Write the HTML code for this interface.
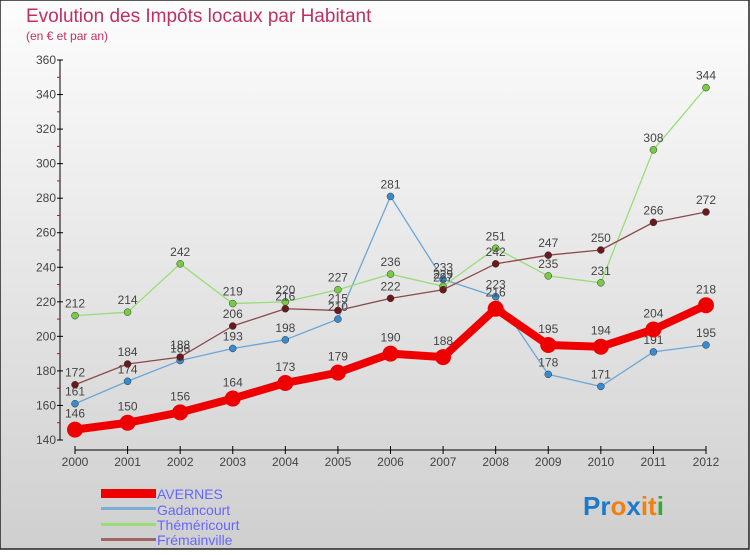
<!DOCTYPE html>
<html><head><meta charset="utf-8"><style>
html,body{margin:0;padding:0}
body{width:750px;height:550px;overflow:hidden;font-family:"Liberation Sans",sans-serif}
svg text{font-family:"Liberation Sans",sans-serif}
</style></head><body>
<svg id="c" width="750" height="550" xmlns="http://www.w3.org/2000/svg">
<defs><linearGradient id="bg" x1="0" y1="0" x2="0" y2="1"><stop offset="0" stop-color="#fdfdfd"/><stop offset="1" stop-color="#cfcfcf"/></linearGradient></defs>
<rect x="0" y="0" width="749" height="549" fill="url(#bg)" stroke="#222" stroke-width="1.5"/>
<text x="26" y="22" font-size="19" fill="#c0305f">Evolution des Impôts locaux par Habitant</text>
<text x="26" y="40" font-size="12" fill="#c0305f">(en € et par an)</text>
<g id="axes"></g><g id="series"></g>
<g>
<rect x="101" y="489" width="55" height="9" fill="#e00"/>
<text x="157" y="499" font-size="14" fill="#66f">AVERNES</text>
<rect x="101" y="507" width="55" height="3" fill="#7aaed6"/>
<text x="157" y="515" font-size="14" fill="#66f">Gadancourt</text>
<rect x="101" y="523" width="55" height="3" fill="#99dd77"/>
<text x="157" y="530" font-size="14" fill="#66f">Théméricourt</text>
<rect x="101" y="538" width="55" height="3" fill="#a06666"/>
<text x="157" y="545" font-size="14" fill="#66f">Frémainville</text>
</g>
<text x="583" y="515" font-size="26" font-weight="bold"><tspan fill="#1e7ac8">Pr</tspan><tspan fill="#f08010">o</tspan><tspan fill="#1e7ac8">x</tspan><tspan fill="#f08010">it</tspan><tspan fill="#3a3">i</tspan></text>
</svg>
<script>
const years=["2000","2001","2002","2003","2004","2005","2006","2007","2008","2009","2010","2011","2012"];
const yTicks=[140,160,180,200,220,240,260,280,300,320,340,360];
const avernes=[146,150,156,164,173,179,190,188,216,195,194,204,218];
const gadancourt=[161,174,186,193,198,210,281,233,223,178,171,191,195];
const themericourt=[212,214,242,219,220,227,236,229,251,235,231,308,344];
const fremainville=[172,184,188,206,216,215,222,227,242,247,250,266,272];
const NS="http://www.w3.org/2000/svg";
const X=i=>75+i*(706-75)/(years.length-1);
const Y=v=>440-(v-140)*380/220;
function mk(t,a,p){const e=document.createElementNS(NS,t);for(const k in a)e.setAttribute(k,a[k]);p.appendChild(e);return e;}
const ax=document.getElementById('axes');
let l=mk('line',{x1:60,y1:60,x2:60,y2:440,stroke:'#000'},ax);


l=mk('line',{x1:75,y1:450,x2:706,y2:450,stroke:'#000'},ax);


yTicks.forEach((v,i)=>{
 const y=Y(v);
 mk('line',{x1:57,y1:y,x2:63,y2:y,stroke:'#000'},ax);
 if(i<yTicks.length-1) mk('line',{x1:57,y1:Y(v+10),x2:60,y2:Y(v+10),stroke:'#e00'},ax);
 const t=mk('text',{x:56,y:y+4,'font-size':12,fill:'#444','text-anchor':'end'},ax);
 t.textContent=v;
 
 
});
years.forEach((yr,i)=>{
 mk('line',{x1:X(i),y1:446,x2:X(i),y2:454,stroke:'#000'},ax);
 const t=mk('text',{x:X(i),y:466,'font-size':12,fill:'#444','text-anchor':'middle'},ax);
 t.textContent=yr;
 
 
});
const sg=document.getElementById('series');
function series(name,data,color,dot,w,r){
 const g=mk('g',{},sg);
 
 
 const p=mk('polyline',{points:data.map((v,i)=>X(i)+','+Y(v)).join(' '),fill:'none',stroke:color,'stroke-width':w,'stroke-linejoin':'round'},g);
 
 
 data.forEach((v,i)=>{
  const c=mk('circle',{cx:X(i),cy:Y(v),r:r,fill:dot,stroke:r>4?'none':'#333','stroke-width':0.5},g);
  
  
  const t=mk('text',{x:X(i),y:Y(v)-8-(r>4?4:0),'font-size':12,fill:'#444','text-anchor':'middle'},g);
  t.textContent=v;
  
  
 });
}
series('gadancourt',gadancourt,'#6aa6d6','#3a8ad0',1.3,3.5);
series('themericourt',themericourt,'#99dd77','#77cc44',1.3,3.5);
series('fremainville',fremainville,'#8a4a4a','#6a1a1a',1.3,3.5);
series('avernes',avernes,'#ee0000','#ee0000',8,8);
</script>
</body></html>
